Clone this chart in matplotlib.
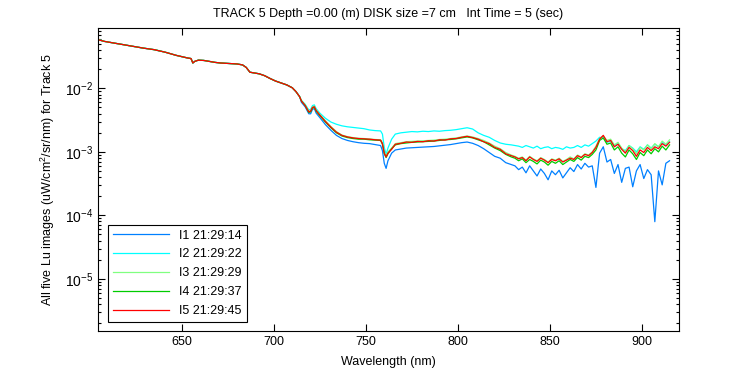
import numpy as np
import matplotlib
matplotlib.use('Agg')
import matplotlib.pyplot as plt
from matplotlib.ticker import LogLocator, NullFormatter

plt.rcParams['font.family'] = ['Liberation Sans', 'DejaVu Sans']
plt.rcParams['mathtext.fontset'] = 'custom'
plt.rcParams['mathtext.rm'] = 'Liberation Sans'
plt.rcParams['mathtext.it'] = 'Liberation Sans'

# wavelengths (nm): part where all five images coincide, then the rest
wl_head = [605, 608, 611, 614, 617, 620, 623, 626, 629, 632, 635, 638, 641, 644, 647,
           650, 653, 655, 656, 657, 659, 662, 665, 668, 671, 674, 677, 680, 683, 685,
           687, 689, 692, 695, 698, 701, 704, 707, 710, 712, 714]
wl_mid = [715, 717, 719, 720, 721, 722, 723, 725, 728, 731, 734, 737, 740, 743, 746,
          749, 752, 755, 758, 759, 760, 761, 762, 764, 766, 769, 772, 775, 778, 781,
          784, 787, 790, 793, 796, 799, 802, 805, 808, 811, 814, 817, 820, 823, 826, 829]
wl_tail = [831, 833, 835, 837, 839, 841, 843, 845, 847, 849, 851, 853, 855, 857, 859,
           861, 863, 865, 867, 869, 871, 873, 875, 877, 879, 881, 883, 885, 887, 889,
           891, 893, 895, 897, 899, 901, 903, 905, 907, 909, 911, 913, 915]

# log10 of Lu (uW/cm2/sr/nm)
log_head = [-1.237, -1.26, -1.275, -1.29, -1.305, -1.32, -1.335, -1.35, -1.365, -1.378,
            -1.39, -1.41, -1.43, -1.455, -1.48, -1.50, -1.52, -1.53, -1.60, -1.575,
            -1.555, -1.56, -1.575, -1.59, -1.60, -1.605, -1.61, -1.615, -1.63, -1.67,
            -1.745, -1.755, -1.77, -1.80, -1.845, -1.885, -1.915, -1.945, -1.99, -2.05, -2.13]

i1_mid = [-2.22, -2.29, -2.40, -2.40, -2.33, -2.32, -2.39, -2.46, -2.57, -2.66, -2.74, -2.79,
          -2.82, -2.84, -2.855, -2.865, -2.87, -2.885, -2.90, -2.98, -3.18, -3.26, -3.14,
          -3.02, -2.97, -2.955, -2.94, -2.935, -2.93, -2.925, -2.92, -2.915, -2.905, -2.895,
          -2.885, -2.87, -2.855, -2.845, -2.865, -2.90, -2.95, -3.01, -3.07, -3.10, -3.17, -3.20]
i1_tail = [-3.22, -3.28, -3.24, -3.33, -3.22, -3.30, -3.38, -3.27, -3.34, -3.44, -3.30, -3.36,
           -3.29, -3.41, -3.33, -3.25, -3.31, -3.20, -3.27, -3.18, -3.24, -3.22, -3.56, -3.02,
           -2.92, -3.16, -3.12, -3.34, -3.20, -3.48, -3.26, -3.24, -3.55, -3.30, -3.20, -3.42,
           -3.28, -3.36, -4.10, -3.30, -3.52, -3.18, -3.14]

i2_mid = [-2.19, -2.25, -2.34, -2.33, -2.27, -2.26, -2.32, -2.39, -2.47, -2.53, -2.565, -2.59,
          -2.605, -2.615, -2.625, -2.635, -2.655, -2.665, -2.67, -2.72, -2.93, -3.04, -2.94,
          -2.80, -2.72, -2.70, -2.69, -2.68, -2.685, -2.675, -2.68, -2.67, -2.675, -2.665,
          -2.66, -2.65, -2.635, -2.62, -2.64, -2.70, -2.74, -2.77, -2.82, -2.86, -2.88, -2.89]
i2_tail = [-2.90, -2.91, -2.93, -2.90, -2.92, -2.94, -2.91, -2.95, -2.93, -2.92, -2.95, -2.93,
           -2.94, -2.96, -2.92, -2.94, -2.93, -2.90, -2.93, -2.89, -2.91, -2.87, -2.83, -2.77,
           -2.78, -2.85, -2.83, -2.90, -2.87, -2.95, -2.98, -2.90, -2.94, -3.00, -2.92, -2.96,
           -2.89, -2.94, -2.88, -2.92, -2.85, -2.90, -2.84]

i3_mid = [-2.19, -2.26, -2.36, -2.35, -2.29, -2.28, -2.34, -2.41, -2.51, -2.60, -2.68, -2.735,
          -2.76, -2.775, -2.785, -2.79, -2.795, -2.805, -2.81, -2.86, -3.00, -3.06, -3.00,
          -2.94, -2.87, -2.855, -2.84, -2.835, -2.83, -2.825, -2.82, -2.815, -2.805, -2.80,
          -2.79, -2.78, -2.765, -2.75, -2.765, -2.79, -2.82, -2.86, -2.91, -2.95, -3.01, -3.05]
i3_tail = [-3.07, -3.10, -3.08, -3.13, -3.07, -3.11, -3.14, -3.09, -3.12, -3.16, -3.11, -3.13,
           -3.10, -3.15, -3.12, -3.08, -3.11, -3.05, -3.08, -3.03, -3.05, -3.00, -2.91, -2.79,
           -2.75, -2.82, -2.80, -2.89, -2.85, -2.94, -3.00, -2.90, -2.95, -3.03, -2.93, -2.97,
           -2.89, -2.95, -2.87, -2.92, -2.83, -2.88, -2.81]

i4_mid = [-2.20, -2.27, -2.38, -2.37, -2.31, -2.30, -2.36, -2.43, -2.53, -2.62, -2.70, -2.75,
          -2.775, -2.79, -2.80, -2.80, -2.81, -2.815, -2.82, -2.88, -3.03, -3.09, -3.03,
          -2.95, -2.89, -2.87, -2.86, -2.85, -2.845, -2.84, -2.835, -2.83, -2.82, -2.81,
          -2.805, -2.795, -2.78, -2.765, -2.78, -2.81, -2.84, -2.89, -2.94, -2.98, -3.04, -3.08]
i4_tail = [-3.10, -3.14, -3.11, -3.17, -3.12, -3.15, -3.19, -3.13, -3.16, -3.21, -3.15, -3.18,
           -3.14, -3.20, -3.16, -3.12, -3.15, -3.09, -3.13, -3.07, -3.09, -3.04, -2.97, -2.82,
           -2.78, -2.88, -2.86, -2.97, -2.92, -3.02, -3.08, -2.97, -3.03, -3.12, -3.01, -3.06,
           -2.97, -3.03, -2.95, -3.00, -2.91, -2.97, -2.89]

i5_mid = [-2.20, -2.27, -2.37, -2.36, -2.30, -2.29, -2.35, -2.42, -2.52, -2.61, -2.69, -2.74,
          -2.765, -2.78, -2.79, -2.795, -2.80, -2.81, -2.815, -2.87, -3.02, -3.08, -3.02,
          -2.96, -2.88, -2.865, -2.845, -2.85, -2.835, -2.84, -2.825, -2.83, -2.81, -2.815,
          -2.795, -2.79, -2.77, -2.755, -2.775, -2.80, -2.84, -2.87, -2.93, -2.96, -3.03, -3.06]
i5_tail = [-3.08, -3.11, -3.09, -3.14, -3.08, -3.12, -3.15, -3.10, -3.13, -3.17, -3.12, -3.14,
           -3.11, -3.16, -3.13, -3.10, -3.12, -3.06, -3.09, -3.04, -3.06, -3.01, -2.93, -2.80,
           -2.74, -2.84, -2.82, -2.92, -2.88, -2.96, -3.02, -2.93, -2.98, -3.07, -2.97, -3.01,
           -2.93, -2.98, -2.92, -2.95, -2.87, -2.91, -2.85]

labels = ['I1 21:29:14', 'I2 21:29:22', 'I3 21:29:29', 'I4 21:29:37', 'I5 21:29:45']
colors = [(0, 0.5, 1), (0, 1, 1), (0.5, 1, 0.5), (0, 0.8, 0), (1, 0, 0)]

wl = np.array(wl_head + wl_mid + wl_tail)
series = [i1_mid + i1_tail, i2_mid + i2_tail, i3_mid + i3_tail,
          i4_mid + i4_tail, i5_mid + i5_tail]

fig = plt.figure(figsize=(7.5, 3.75), dpi=100)
ax = fig.add_axes([0.131, 0.117, 0.774, 0.808])

for s, c, lab in zip(series, colors, labels):
    lu = 10 ** np.array(log_head + s)
    ax.plot(wl, lu, color=c, lw=0.9, label=lab)

ax.set_yscale('log')
ax.set_xlim(604.6, 920)
ax.set_ylim(1.5e-6, 0.089)
ax.set_xticks([650, 700, 750, 800, 850, 900])
ax.yaxis.set_major_locator(LogLocator(base=10))
ax.yaxis.set_minor_locator(LogLocator(base=10, subs=np.arange(2, 10)))
ax.yaxis.set_minor_formatter(NullFormatter())
ax.tick_params(which='both', direction='in', top=True, right=True, labelsize=9, width=0.8)
ax.tick_params(axis='y', which='major', labelsize=10)
ax.tick_params(which='major', length=5)
ax.tick_params(which='minor', length=2.5)
for sp in ax.spines.values():
    sp.set_linewidth(0.8)

ax.set_title('TRACK 5 Depth =0.00 (m) DISK size =7 cm   Int Time = 5 (sec)', fontsize=9, pad=8)
ax.set_xlabel('Wavelength (nm)', fontsize=9, labelpad=6)
ax.set_ylabel('All five Lu images (uW/cm$^2$/sr/nm) for Track 5', fontsize=9, labelpad=6)

leg = ax.legend(loc='lower left', bbox_to_anchor=(0.017, 0.03), borderaxespad=0,
                fontsize=9, handlelength=4.5, labelspacing=0.55, fancybox=False,
                framealpha=1, edgecolor='black')
leg.get_frame().set_linewidth(0.8)

plt.savefig('out.png', dpi=100)
